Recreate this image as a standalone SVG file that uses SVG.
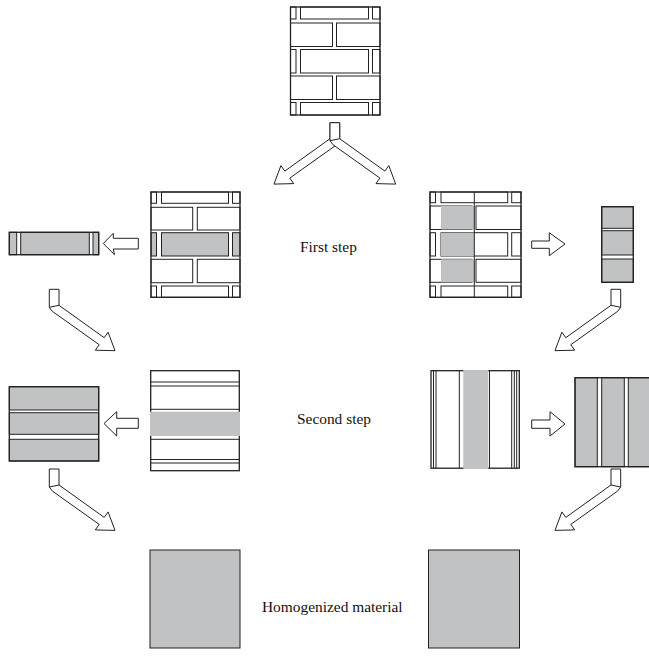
<svg xmlns="http://www.w3.org/2000/svg" width="649" height="658" viewBox="0 0 649 658">
<style>
.o{fill:none;stroke:#222;stroke-width:1.3}
.b{fill:#fff;stroke:#222;stroke-width:1}
.g{fill:#c1c2c3;stroke:none}
.gs{fill:#c1c2c3;stroke:#222;stroke-width:1}
.l{stroke:#222;stroke-width:1;fill:none}
.a{fill:#fff;stroke:#222;stroke-width:1}
.t{font-family:"Liberation Serif","Times New Roman",serif;font-size:15.4px;fill:#111}
</style>
<defs>
<path id="bent" d="M0,0 H9.7 V16 L54.9,48.4 L58.8,42.9 L65.7,61.4 L46,60.9 L49.9,55.4 L3,22 L0,18 Z M0,18 L9.7,16"/>
</defs>
<rect width="649" height="658" fill="#fff"/>

<g id="wall-original">
<rect class="b" x="290.5" y="7" width="5.5" height="12"/><rect class="b" x="300.5" y="7" width="68" height="12"/><rect class="b" x="372.5" y="7" width="7.5" height="12"/>
<rect class="b" x="290.5" y="23" width="42" height="23.5"/><rect class="b" x="336.5" y="23" width="43.5" height="23.5"/>
<rect class="b" x="290.5" y="49.5" width="5.5" height="23.5"/><rect class="b" x="300.5" y="49.5" width="68" height="23.5"/><rect class="b" x="372.5" y="49.5" width="7.5" height="23.5"/>
<rect class="b" x="290.5" y="76" width="42" height="23.5"/><rect class="b" x="336.5" y="76" width="43.5" height="23.5"/>
<rect class="b" x="290.5" y="102.5" width="5.5" height="12.5"/><rect class="b" x="300.5" y="102.5" width="68" height="12.5"/><rect class="b" x="372.5" y="102.5" width="7.5" height="12.5"/>
<rect class="o" x="290.5" y="7" width="89.5" height="108"/>
</g>

<g id="wall-step1-left">
<rect class="b" x="151" y="192" width="5.5" height="11.3"/><rect class="b" x="161.5" y="192" width="67" height="11.3"/><rect class="b" x="232.5" y="192" width="7.5" height="11.3"/>
<rect class="b" x="151" y="207.3" width="41.7" height="22.7"/><rect class="b" x="197.3" y="207.3" width="42.7" height="22.7"/>
<rect class="gs" x="151" y="232.7" width="5.5" height="23.3"/><rect class="gs" x="161.5" y="232.7" width="67" height="23.3"/><rect class="gs" x="232.5" y="232.7" width="7.5" height="23.3"/>
<rect class="b" x="151" y="259.3" width="41.7" height="23.4"/><rect class="b" x="197.3" y="259.3" width="42.7" height="23.4"/>
<rect class="b" x="151" y="286" width="5.5" height="11.3"/><rect class="b" x="161.5" y="286" width="67" height="11.3"/><rect class="b" x="232.5" y="286" width="7.5" height="11.3"/>
<rect class="o" x="151" y="192" width="89" height="105.3"/>
</g>

<g id="strip-step1-left">
<rect class="gs" x="9.3" y="232.3" width="7.4" height="22.4"/>
<rect class="gs" x="20.7" y="232.3" width="68.6" height="22.4"/>
<rect class="gs" x="93" y="232.3" width="5.7" height="22.4"/>
<rect class="o" x="9.3" y="232.3" width="89.4" height="22.4"/>
</g>

<g id="wall-step1-right">
<rect class="b" x="430" y="192" width="5.5" height="10.7"/><rect class="b" x="441" y="192" width="66.7" height="10.7"/><rect class="b" x="511.7" y="192" width="9.3" height="10.7"/>
<rect class="b" x="430" y="206" width="42" height="23.5"/><rect class="b" x="476" y="206" width="45" height="23.5"/>
<rect class="b" x="430" y="232.7" width="5.5" height="23.3"/><rect class="b" x="441" y="232.7" width="66.7" height="23.3"/><rect class="b" x="511.7" y="232.7" width="9.3" height="23.3"/>
<rect class="b" x="430" y="259.3" width="42" height="23"/><rect class="b" x="476" y="259.3" width="45" height="23"/>
<rect class="b" x="430" y="286" width="5.5" height="11.3"/><rect class="b" x="441" y="286" width="66.7" height="11.3"/><rect class="b" x="511.7" y="286" width="9.3" height="11.3"/>
<rect class="g" x="441" y="206" width="33.3" height="23.5"/>
<rect class="g" x="441" y="232.7" width="33.3" height="23.3"/>
<rect class="g" x="441" y="259.3" width="33.3" height="23"/>
<line class="l" x1="474.3" y1="192" x2="474.3" y2="297.3"/>
<rect class="o" x="430" y="192" width="91" height="105.3"/>
</g>

<g id="strip-step1-right">
<rect class="gs" x="601.7" y="206.7" width="31.6" height="21.6"/>
<rect class="gs" x="601.7" y="230.7" width="31.6" height="24.3"/>
<rect class="gs" x="601.7" y="259" width="31.6" height="23.3"/>
<rect class="o" x="601.7" y="206.7" width="31.6" height="75.6"/>
</g>

<g id="wall-step2-left">
<rect class="o" x="150.7" y="370.7" width="88.6" height="100"/>
<line class="l" x1="150.7" y1="382" x2="239.3" y2="382"/>
<line class="l" x1="150.7" y1="386" x2="239.3" y2="386"/>
<line class="l" x1="150.7" y1="409.3" x2="239.3" y2="409.3"/>
<rect class="g" x="150" y="411.7" width="90" height="24.3"/>
<line class="l" x1="150.7" y1="439.3" x2="239.3" y2="439.3"/>
<line class="l" x1="150.7" y1="459.5" x2="239.3" y2="459.5"/>
<line class="l" x1="150.7" y1="463" x2="239.3" y2="463"/>
</g>

<g id="stack-step2-left">
<rect class="gs" x="9.3" y="386.7" width="89.4" height="23.3"/>
<rect class="gs" x="9.3" y="412.7" width="89.4" height="21.6"/>
<rect class="gs" x="9.3" y="439.3" width="89.4" height="21.7"/>
<rect class="o" x="9.3" y="386.7" width="89.4" height="74.3"/>
</g>

<g id="wall-step2-right">
<rect class="o" x="431" y="370.7" width="88.3" height="97.5"/>
<line class="l" x1="433.5" y1="370.7" x2="433.5" y2="468.2"/>
<line class="l" x1="436" y1="370.7" x2="436" y2="468.2"/>
<line class="l" x1="459.3" y1="370.7" x2="459.3" y2="468.2"/>
<rect class="g" x="463.3" y="370" width="25" height="99"/>
<line class="l" x1="489.5" y1="370.7" x2="489.5" y2="468.2"/>
<line class="l" x1="511.7" y1="370.7" x2="511.7" y2="468.2"/>
<line class="l" x1="514.3" y1="370.7" x2="514.3" y2="468.2"/>
<line class="l" x1="516.7" y1="370.7" x2="516.7" y2="468.2"/>
</g>

<g id="stack-step2-right">
<rect class="gs" x="575" y="377.7" width="22.3" height="89"/>
<rect class="gs" x="601.7" y="377.7" width="22.6" height="89"/>
<rect class="gs" x="628.3" y="377.7" width="30" height="89"/>
<rect class="o" x="575" y="377.7" width="80" height="89"/>
</g>

<g id="homog-left"><rect class="gs" x="150" y="550" width="90" height="98"/></g>
<g id="homog-right"><rect class="gs" x="428.5" y="550" width="91" height="98"/></g>

<g id="connectors">
<use href="#bent" class="a" transform="translate(339.7,122.7) scale(-1,1)"/>
<use href="#bent" class="a" transform="translate(330,122.7)"/>
<use href="#bent" class="a" transform="translate(49.3,289.3)"/>
<use href="#bent" class="a" transform="translate(49.3,469)"/>
<use href="#bent" class="a" transform="translate(620.7,289.3) scale(-1,1)"/>
<use href="#bent" class="a" transform="translate(620.7,469) scale(-1,1)"/>
<polygon class="a" points="138.3,238.3 113.3,238.3 113.3,233.3 103.3,243.5 114.5,254.7 113.3,249 138.3,249"/>
<polygon class="a" points="531.7,241 549.3,241 549.3,232.7 565,244 549.3,255.7 549.3,248.3 531.7,248.3"/>
<polygon class="a" points="138.3,418.3 116.7,418.3 116.7,411.7 104,423.5 116.7,436 116.7,428.3 138.3,428.3"/>
<polygon class="a" points="531.7,420 550,420 550,411.7 565,424 550,436 550,428.3 531.7,428.3"/>
</g>

<g id="labels">
<text class="t" x="300" y="251.5">First step</text>
<text class="t" x="297" y="423.5">Second step</text>
<text class="t" x="262" y="611.5">Homogenized material</text>
</g>
</svg>
